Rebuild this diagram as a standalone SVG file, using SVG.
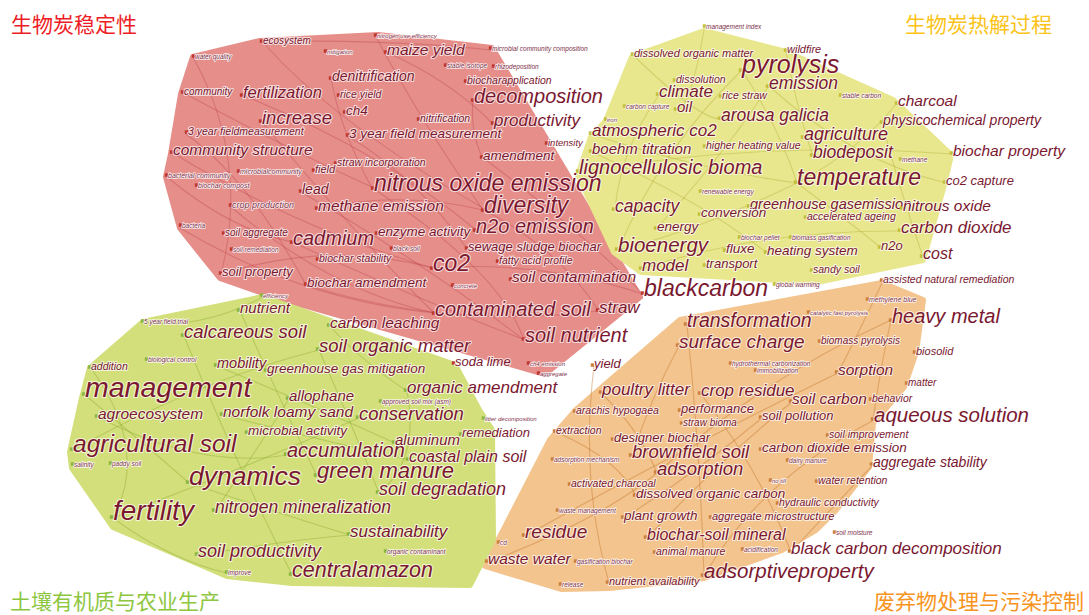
<svg xmlns="http://www.w3.org/2000/svg" width="1089" height="615" viewBox="0 0 1089 615">
<style>
.hull{stroke-linejoin:round;stroke-width:6}
.hr{fill:#e68e8a;stroke:#e68e8a}
.hy{fill:#e8e78d;stroke:#e8e78d}
.hg{fill:#d3df7b;stroke:#d3df7b}
.ho{fill:#f3c48d;stroke:#f3c48d}
.lk path{fill:none;stroke-width:1.1}
.lr path{stroke:#b8404a;stroke-opacity:.35}
.ly path{stroke:#b5ae3c;stroke-opacity:.4}
.lo path{stroke:#c57a35;stroke-opacity:.45}
.lg path{stroke:#93b035;stroke-opacity:.45}
.nd text{font-family:"Liberation Sans",Arial,sans-serif;font-style:italic;fill:#7a1830;stroke:#fff;stroke-opacity:.7;stroke-width:2.2;paint-order:stroke;stroke-linejoin:round}
.nd text.s{fill:#80304a;stroke-width:1.6;stroke-opacity:.85}
.cr rect{fill:#c0392b}
.cy rect{fill:#c4bf35}
.cg rect{fill:#8fb53a}
.co rect{fill:#cc8038}
.ttl{font-family:"Noto Sans CJK SC",sans-serif;font-size:21px}
</style>
<rect width="1089" height="615" fill="#fff"/>
<g id="hulls">
<polygon class="hull hr" points="260,41 378,35 492,48 640,297 545,374 272,296 220,278 180,228 166,177 171,154 181,94 193,57"/>
<polygon class="hull hy" points="704,31 786,52 893,100 951,155 944,185 923,260 817,282 641,272 614,252 578,175 591,137 606,121 632,57"/>
<polygon class="hull ho" points="882,283 923,300 916,352 904,387 873,423 869,467 836,510 816,530 782,550 704,578 609,588 561,589 485,566 550,440 576,410 680,320"/>
<polygon class="hull hg" points="263,297 455,365 479,410 492,430 493,540 470,585 292,583 227,576 113,527 72,468 70,452 82,398 90,368 143,322"/>
</g>
<g id="connectors" class="lk">
<g class="lr">
<path d="M262,41 Q330,120 483,208"/><path d="M182,92 Q290,150 372,187"/><path d="M171,152 Q300,230 433,268"/>
<path d="M166,176 Q230,230 293,242"/><path d="M242,95 Q380,150 476,230"/><path d="M261,121 Q360,240 434,313"/>
<path d="M386,52 Q450,80 493,124"/><path d="M331,78 Q340,130 372,188"/><path d="M473,100 Q470,130 482,157"/>
<path d="M482,157 Q580,230 643,294"/><path d="M221,274 Q330,240 433,268"/><path d="M306,285 Q450,330 598,311"/>
<path d="M301,192 Q420,260 524,340"/><path d="M317,209 Q400,190 483,210"/><path d="M348,136 Q420,180 467,249"/>
<path d="M231,207 Q330,290 434,313"/><path d="M193,57 Q250,160 221,274"/><path d="M262,41 Q400,40 491,50"/>
<path d="M376,37 Q420,120 483,210"/><path d="M180,228 Q300,300 434,313"/><path d="M433,268 Q540,260 643,294"/>
<path d="M292,242 Q420,300 525,340"/><path d="M484,210 Q560,250 599,311"/><path d="M372,188 Q500,270 524,340"/>
<path d="M186,134 Q250,180 306,285"/>
</g>
<g class="ly">
<path d="M742,70 Q780,130 797,183"/><path d="M742,70 Q660,150 618,250"/><path d="M896,104 Q860,150 797,183"/>
<path d="M659,95 Q620,150 615,210"/><path d="M579,172 Q760,140 953,154"/><path d="M633,55 Q700,120 721,119"/>
<path d="M786,52 Q800,120 813,156"/><path d="M591,134 Q700,170 797,183"/><path d="M618,250 Q700,230 797,183"/>
<path d="M641,269 Q760,230 901,231"/><path d="M704,30 Q690,110 677,110"/><path d="M882,123 Q900,190 923,257"/>
<path d="M797,183 Q860,230 881,248"/><path d="M769,86 Q850,160 946,183"/><path d="M592,152 Q700,200 767,253"/>
<path d="M656,229 Q720,160 769,86"/>
</g>
<g class="lo">
<path d="M891,320 Q760,380 657,473"/><path d="M891,320 Q880,370 873,420"/><path d="M838,373 Q680,450 525,536"/>
<path d="M687,325 Q700,450 704,576"/><path d="M679,346 Q650,400 632,456"/><path d="M594,366 Q580,480 609,583"/>
<path d="M792,402 Q720,460 647,538"/><path d="M874,420 Q760,480 704,576"/><path d="M882,283 Q860,330 838,373"/>
<path d="M601,393 Q640,430 657,473"/><path d="M701,394 Q760,470 791,552"/><path d="M556,432 Q620,460 636,496"/>
<path d="M488,562 Q600,520 657,473"/><path d="M873,465 Q830,510 791,552"/><path d="M762,418 Q700,470 624,518"/>
</g>
<g class="lg">
<path d="M85,395 Q140,440 189,483"/><path d="M73,450 Q200,380 319,350"/><path d="M113,518 Q240,470 359,418"/>
<path d="M184,336 Q230,450 292,575"/><path d="M240,311 Q280,400 317,476"/><path d="M91,368 Q150,450 113,518"/>
<path d="M143,322 Q200,330 263,297"/><path d="M98,417 Q200,470 287,455"/><path d="M189,483 Q300,520 350,535"/>
<path d="M223,415 Q320,440 409,460"/><path d="M319,350 Q350,420 379,493"/><path d="M217,366 Q300,400 395,443"/>
<path d="M407,391 Q420,460 379,493"/><path d="M227,573 Q170,560 113,518"/><path d="M198,555 Q290,540 350,535"/>
<path d="M330,326 Q360,360 407,391"/><path d="M289,399 Q250,460 215,511"/>
</g>
</g>
<g id="nodes" class="nd">
<g id="cluster-red" class="cr">
<g id="n-ecosystem"><rect x="259.8" y="39.3" width="3.5" height="3.5"/><text x="263" y="44" font-size="10">ecosystem</text></g>
<g id="n-nitrogen-use-efficiency"><rect x="373.8" y="33.3" width="3.5" height="3.5"/><text class="s" x="377" y="38" font-size="6">nitrogen use efficiency</text></g>
<g id="n-mitigation"><rect x="323.8" y="49.3" width="3.5" height="3.5"/><text class="s" x="327" y="54" font-size="6">mitigation</text></g>
<g id="n-maize-yield"><rect x="383.8" y="50.3" width="3.5" height="3.5"/><text x="387" y="55" font-size="15.5">maize yield</text></g>
<g id="n-microbial-community-composition"><rect x="488.8" y="46.3" width="3.5" height="3.5"/><text class="s" x="492" y="51" font-size="6.5">microbial community composition</text></g>
<g id="n-water-quality"><rect x="191.8" y="54.3" width="3.5" height="3.5"/><text class="s" x="195" y="59" font-size="6.5">water quality</text></g>
<g id="n-stable-isotope"><rect x="443.8" y="63.3" width="3.5" height="3.5"/><text class="s" x="447" y="68" font-size="6.5">stable isotope</text></g>
<g id="n-rhizodeposition"><rect x="491.8" y="64.3" width="3.5" height="3.5"/><text class="s" x="495" y="69" font-size="6.5">rhizodeposition</text></g>
<g id="n-denitrification"><rect x="328.8" y="76.3" width="3.5" height="3.5"/><text x="332" y="81" font-size="14">denitrification</text></g>
<g id="n-biocharapplication"><rect x="463.8" y="79.3" width="3.5" height="3.5"/><text x="467" y="84" font-size="10.5">biocharapplication</text></g>
<g id="n-community"><rect x="180.8" y="90.3" width="3.5" height="3.5"/><text x="184" y="95" font-size="10">community</text></g>
<g id="n-fertilization"><rect x="239.8" y="93.3" width="3.5" height="3.5"/><text x="243" y="98" font-size="16.5">fertilization</text></g>
<g id="n-rice-yield"><rect x="336.8" y="93.3" width="3.5" height="3.5"/><text x="340" y="98" font-size="10.5">rice yield</text></g>
<g id="n-decomposition"><rect x="470.8" y="98.3" width="3.5" height="3.5"/><text x="474" y="103" font-size="20">decomposition</text></g>
<g id="n-ch4"><rect x="342.8" y="110.3" width="3.5" height="3.5"/><text x="346" y="115" font-size="13.5">ch4</text></g>
<g id="n-increase"><rect x="258.8" y="119.3" width="3.5" height="3.5"/><text x="262" y="124" font-size="18.5">increase</text></g>
<g id="n-nitrification"><rect x="416.8" y="117.3" width="3.5" height="3.5"/><text x="420" y="122" font-size="10.5">nitrification</text></g>
<g id="n-productivity"><rect x="490.8" y="121.3" width="3.5" height="3.5"/><text x="494" y="126" font-size="17">productivity</text></g>
<g id="n-3-year-fieldmeasurement"><rect x="184.8" y="130.3" width="3.5" height="3.5"/><text x="188" y="135" font-size="10.5">3 year fieldmeasurement</text></g>
<g id="n-3-year-field-measurement"><rect x="345.8" y="133.3" width="3.5" height="3.5"/><text x="349" y="138" font-size="13.5">3 year field measurement</text></g>
<g id="n-intensity"><rect x="544.8" y="141.3" width="3.5" height="3.5"/><text x="548" y="146" font-size="9.5">intensity</text></g>
<g id="n-community-structure"><rect x="169.8" y="150.3" width="3.5" height="3.5"/><text x="173" y="155" font-size="15.5">community structure</text></g>
<g id="n-amendment"><rect x="479.8" y="155.3" width="3.5" height="3.5"/><text x="483" y="160" font-size="13.5">amendment</text></g>
<g id="n-straw-incorporation"><rect x="333.8" y="161.3" width="3.5" height="3.5"/><text x="337" y="166" font-size="10.5">straw incorporation</text></g>
<g id="n-field"><rect x="311.8" y="168.3" width="3.5" height="3.5"/><text x="315" y="173" font-size="11">field</text></g>
<g id="n-microbialcommunity"><rect x="236.8" y="169.3" width="3.5" height="3.5"/><text class="s" x="240" y="174" font-size="7">microbialcommunity</text></g>
<g id="n-bacterial-community"><rect x="164.8" y="173.3" width="3.5" height="3.5"/><text class="s" x="168" y="178" font-size="7">bacterial community</text></g>
<g id="n-biochar-compost"><rect x="194.8" y="183.3" width="3.5" height="3.5"/><text class="s" x="198" y="188" font-size="7">biochar compost</text></g>
<g id="n-nitrous-oxide-emission"><rect x="370.8" y="186.3" width="3.5" height="3.5"/><text x="374" y="191" font-size="23">nitrous oxide emission</text></g>
<g id="n-lead"><rect x="298.8" y="189.3" width="3.5" height="3.5"/><text x="302" y="194" font-size="14">lead</text></g>
<g id="n-diversity"><rect x="480.8" y="208.3" width="3.5" height="3.5"/><text x="484" y="213" font-size="23">diversity</text></g>
<g id="n-methane-emission"><rect x="314.8" y="206.3" width="3.5" height="3.5"/><text x="318" y="211" font-size="15.5">methane emission</text></g>
<g id="n-crop-production"><rect x="228.8" y="203.3" width="3.5" height="3.5"/><text class="s" x="232" y="208" font-size="9">crop production</text></g>
<g id="n-bacteria"><rect x="178.8" y="223.3" width="3.5" height="3.5"/><text class="s" x="182" y="228" font-size="6.5">bacteria</text></g>
<g id="n-soil-aggregate"><rect x="221.8" y="231.3" width="3.5" height="3.5"/><text x="225" y="236" font-size="10">soil aggregate</text></g>
<g id="n-enzyme-activity"><rect x="374.8" y="231.3" width="3.5" height="3.5"/><text x="378" y="236" font-size="13.5">enzyme activity</text></g>
<g id="n-n2o-emission"><rect x="472.8" y="228.3" width="3.5" height="3.5"/><text x="476" y="233" font-size="20">n2o emission</text></g>
<g id="n-cadmium"><rect x="289.8" y="240.3" width="3.5" height="3.5"/><text x="293" y="245" font-size="20">cadmium</text></g>
<g id="n-black-soil"><rect x="389.8" y="246.3" width="3.5" height="3.5"/><text class="s" x="393" y="251" font-size="6.5">black soil</text></g>
<g id="n-soil-remediation"><rect x="229.8" y="247.3" width="3.5" height="3.5"/><text class="s" x="233" y="252" font-size="6.5">soil remediation</text></g>
<g id="n-sewage-sludge-biochar"><rect x="464.8" y="246.3" width="3.5" height="3.5"/><text x="468" y="251" font-size="13">sewage sludge biochar</text></g>
<g id="n-biochar-stability"><rect x="315.8" y="257.3" width="3.5" height="3.5"/><text x="319" y="262" font-size="10.5">biochar stability</text></g>
<g id="n-co2"><rect x="429.8" y="266.3" width="3.5" height="3.5"/><text x="433" y="271" font-size="23">co2</text></g>
<g id="n-fatty-acid-profile"><rect x="495.8" y="259.3" width="3.5" height="3.5"/><text x="499" y="264" font-size="10.5">fatty acid profile</text></g>
<g id="n-soil-contamination"><rect x="508.8" y="277.3" width="3.5" height="3.5"/><text x="512" y="282" font-size="15.5">soil contamination</text></g>
<g id="n-soil-property"><rect x="218.8" y="271.3" width="3.5" height="3.5"/><text x="222" y="276" font-size="13">soil property</text></g>
<g id="n-biochar-amendment"><rect x="303.8" y="282.3" width="3.5" height="3.5"/><text x="307" y="287" font-size="13.5">biochar amendment</text></g>
<g id="n-concrete"><rect x="450.8" y="283.3" width="3.5" height="3.5"/><text class="s" x="454" y="288" font-size="6">concrete</text></g>
<g id="n-blackcarbon"><rect x="640.8" y="291.3" width="3.5" height="3.5"/><text x="644" y="296" font-size="23">blackcarbon</text></g>
<g id="n-contaminated-soil"><rect x="431.8" y="311.3" width="3.5" height="3.5"/><text x="435" y="316" font-size="20">contaminated soil</text></g>
<g id="n-straw"><rect x="595.8" y="308.3" width="3.5" height="3.5"/><text x="599" y="313" font-size="17">straw</text></g>
<g id="n-soil-nutrient"><rect x="521.8" y="337.3" width="3.5" height="3.5"/><text x="525" y="342" font-size="20">soil nutrient</text></g>
<g id="n-soda-lime"><rect x="451.8" y="361.3" width="3.5" height="3.5"/><text x="455" y="366" font-size="13">soda lime</text></g>
<g id="n-ch4-emission"><rect x="526.8" y="361.3" width="3.5" height="3.5"/><text class="s" x="530" y="366" font-size="6">ch4 emission</text></g>
<g id="n-aggregate"><rect x="536.8" y="371.3" width="3.5" height="3.5"/><text class="s" x="540" y="376" font-size="6">aggregate</text></g>
</g>
<g id="cluster-yellow" class="cy">
<g id="n-management-index"><rect x="702.8" y="24.3" width="3.5" height="3.5"/><text class="s" x="706" y="29" font-size="6.5">management index</text></g>
<g id="n-dissolved-organic-matter"><rect x="630.8" y="52.3" width="3.5" height="3.5"/><text x="634" y="57" font-size="11">dissolved organic matter</text></g>
<g id="n-wildfire"><rect x="783.8" y="48.3" width="3.5" height="3.5"/><text x="787" y="53" font-size="11">wildfire</text></g>
<g id="n-pyrolysis"><rect x="738.8" y="68.3" width="3.5" height="3.5"/><text x="742" y="73" font-size="25">pyrolysis</text></g>
<g id="n-emission"><rect x="765.8" y="84.3" width="3.5" height="3.5"/><text x="769" y="89" font-size="17.5">emission</text></g>
<g id="n-dissolution"><rect x="672.8" y="78.3" width="3.5" height="3.5"/><text x="676" y="83" font-size="10.5">dissolution</text></g>
<g id="n-climate"><rect x="655.8" y="92.3" width="3.5" height="3.5"/><text x="659" y="97" font-size="17">climate</text></g>
<g id="n-rice-straw"><rect x="718.8" y="94.3" width="3.5" height="3.5"/><text x="722" y="99" font-size="10.5">rice straw</text></g>
<g id="n-stable-carbon"><rect x="838.8" y="93.3" width="3.5" height="3.5"/><text class="s" x="842" y="98" font-size="6.5">stable carbon</text></g>
<g id="n-charcoal"><rect x="894.8" y="101.3" width="3.5" height="3.5"/><text x="898" y="106" font-size="15.5">charcoal</text></g>
<g id="n-carbon-capture"><rect x="622.8" y="104.3" width="3.5" height="3.5"/><text class="s" x="626" y="109" font-size="6.5">carbon capture</text></g>
<g id="n-oil"><rect x="673.8" y="107.3" width="3.5" height="3.5"/><text x="677" y="112" font-size="15">oil</text></g>
<g id="n-arousa-galicia"><rect x="717.8" y="116.3" width="3.5" height="3.5"/><text x="721" y="121" font-size="17.5">arousa galicia</text></g>
<g id="n-iron"><rect x="603.8" y="117.3" width="3.5" height="3.5"/><text class="s" x="607" y="122" font-size="6">iron</text></g>
<g id="n-physicochemical-property"><rect x="879.8" y="120.3" width="3.5" height="3.5"/><text x="883" y="125" font-size="14">physicochemical property</text></g>
<g id="n-atmospheric-co2"><rect x="588.8" y="131.3" width="3.5" height="3.5"/><text x="592" y="136" font-size="17">atmospheric co2</text></g>
<g id="n-agriculture"><rect x="800.8" y="135.3" width="3.5" height="3.5"/><text x="804" y="140" font-size="18">agriculture</text></g>
<g id="n-boehm-titration"><rect x="588.8" y="149.3" width="3.5" height="3.5"/><text x="592" y="154" font-size="15">boehm titration</text></g>
<g id="n-higher-heating-value"><rect x="702.8" y="144.3" width="3.5" height="3.5"/><text x="706" y="149" font-size="10.5">higher heating value</text></g>
<g id="n-biodeposit"><rect x="809.8" y="153.3" width="3.5" height="3.5"/><text x="813" y="158" font-size="17.5">biodeposit</text></g>
<g id="n-biochar-property"><rect x="949.8" y="151.3" width="3.5" height="3.5"/><text x="953" y="156" font-size="15.5">biochar property</text></g>
<g id="n-methane"><rect x="898.8" y="157.3" width="3.5" height="3.5"/><text class="s" x="902" y="162" font-size="6.5">methane</text></g>
<g id="n-lignocellulosic-bioma"><rect x="575.8" y="169.3" width="3.5" height="3.5"/><text x="579" y="174" font-size="20">lignocellulosic bioma</text></g>
<g id="n-temperature"><rect x="793.8" y="180.3" width="3.5" height="3.5"/><text x="797" y="185" font-size="23">temperature</text></g>
<g id="n-co2-capture"><rect x="942.8" y="180.3" width="3.5" height="3.5"/><text x="946" y="185" font-size="13">co2 capture</text></g>
<g id="n-renewable-energy"><rect x="698.8" y="189.3" width="3.5" height="3.5"/><text class="s" x="702" y="194" font-size="6.5">renewable energy</text></g>
<g id="n-capacity"><rect x="611.8" y="207.3" width="3.5" height="3.5"/><text x="615" y="212" font-size="17.5">capacity</text></g>
<g id="n-greenhouse-gasemission"><rect x="746.8" y="204.3" width="3.5" height="3.5"/><text x="750" y="209" font-size="14.5">greenhouse gasemission</text></g>
<g id="n-nitrous-oxide"><rect x="899.8" y="206.3" width="3.5" height="3.5"/><text x="903" y="211" font-size="15.5">nitrous oxide</text></g>
<g id="n-conversion"><rect x="697.8" y="212.3" width="3.5" height="3.5"/><text x="701" y="217" font-size="13.5">conversion</text></g>
<g id="n-accelerated-ageing"><rect x="803.8" y="215.3" width="3.5" height="3.5"/><text x="807" y="220" font-size="10.5">accelerated ageing</text></g>
<g id="n-carbon-dioxide"><rect x="897.8" y="228.3" width="3.5" height="3.5"/><text x="901" y="233" font-size="17">carbon dioxide</text></g>
<g id="n-energy"><rect x="653.8" y="226.3" width="3.5" height="3.5"/><text x="657" y="231" font-size="13.5">energy</text></g>
<g id="n-biochar-pellet"><rect x="737.8" y="235.3" width="3.5" height="3.5"/><text class="s" x="741" y="240" font-size="6.5">biochar pellet</text></g>
<g id="n-biomass-gasification"><rect x="788.8" y="235.3" width="3.5" height="3.5"/><text class="s" x="792" y="240" font-size="6.5">biomass gasification</text></g>
<g id="n-bioenergy"><rect x="614.8" y="247.3" width="3.5" height="3.5"/><text x="618" y="252" font-size="20.5">bioenergy</text></g>
<g id="n-fluxe"><rect x="722.8" y="248.3" width="3.5" height="3.5"/><text x="726" y="253" font-size="13.5">fluxe</text></g>
<g id="n-heating-system"><rect x="763.8" y="250.3" width="3.5" height="3.5"/><text x="767" y="255" font-size="13.5">heating system</text></g>
<g id="n-n2o"><rect x="877.8" y="245.3" width="3.5" height="3.5"/><text x="881" y="250" font-size="13">n2o</text></g>
<g id="n-cost"><rect x="919.8" y="254.3" width="3.5" height="3.5"/><text x="923" y="259" font-size="16">cost</text></g>
<g id="n-model"><rect x="638.8" y="266.3" width="3.5" height="3.5"/><text x="642" y="271" font-size="17">model</text></g>
<g id="n-transport"><rect x="702.8" y="263.3" width="3.5" height="3.5"/><text x="706" y="268" font-size="13">transport</text></g>
<g id="n-sandy-soil"><rect x="809.8" y="268.3" width="3.5" height="3.5"/><text x="813" y="273" font-size="10.5">sandy soil</text></g>
<g id="n-global-warming"><rect x="772.8" y="282.3" width="3.5" height="3.5"/><text class="s" x="776" y="287" font-size="6.5">global warming</text></g>
</g>
<g id="cluster-orange" class="co">
<g id="n-assisted-natural-remediation"><rect x="879.8" y="278.3" width="3.5" height="3.5"/><text x="883" y="283" font-size="10.5">assisted natural remediation</text></g>
<g id="n-methylene-blue"><rect x="865.8" y="297.3" width="3.5" height="3.5"/><text class="s" x="869" y="302" font-size="7">methylene blue</text></g>
<g id="n-catalytic-fast-pyrolysis"><rect x="806.8" y="310.3" width="3.5" height="3.5"/><text class="s" x="810" y="315" font-size="6">catalytic fast pyrolysis</text></g>
<g id="n-heavy-metal"><rect x="888.8" y="318.3" width="3.5" height="3.5"/><text x="892" y="323" font-size="20">heavy metal</text></g>
<g id="n-transformation"><rect x="683.8" y="322.3" width="3.5" height="3.5"/><text x="687" y="327" font-size="19.5">transformation</text></g>
<g id="n-surface-charge"><rect x="675.8" y="343.3" width="3.5" height="3.5"/><text x="679" y="348" font-size="19">surface charge</text></g>
<g id="n-biomass-pyrolysis"><rect x="817.8" y="339.3" width="3.5" height="3.5"/><text x="821" y="344" font-size="10">biomass pyrolysis</text></g>
<g id="n-biosolid"><rect x="912.8" y="350.3" width="3.5" height="3.5"/><text x="916" y="355" font-size="11">biosolid</text></g>
<g id="n-hydrothermal-carbonization"><rect x="728.8" y="361.3" width="3.5" height="3.5"/><text class="s" x="732" y="366" font-size="6.5">hydrothermal carbonization</text></g>
<g id="n-immobilization"><rect x="753.8" y="368.3" width="3.5" height="3.5"/><text class="s" x="757" y="373" font-size="6.5">immobilization</text></g>
<g id="n-yield"><rect x="590.8" y="363.3" width="3.5" height="3.5"/><text x="594" y="368" font-size="13">yield</text></g>
<g id="n-sorption"><rect x="834.8" y="370.3" width="3.5" height="3.5"/><text x="838" y="375" font-size="15.5">sorption</text></g>
<g id="n-matter"><rect x="904.8" y="381.3" width="3.5" height="3.5"/><text x="908" y="386" font-size="10">matter</text></g>
<g id="n-poultry-litter"><rect x="598.8" y="390.3" width="3.5" height="3.5"/><text x="602" y="395" font-size="17">poultry litter</text></g>
<g id="n-crop-residue"><rect x="697.8" y="391.3" width="3.5" height="3.5"/><text x="701" y="396" font-size="17">crop residue</text></g>
<g id="n-soil-carbon"><rect x="788.8" y="399.3" width="3.5" height="3.5"/><text x="792" y="404" font-size="15.5">soil carbon</text></g>
<g id="n-behavior"><rect x="868.8" y="397.3" width="3.5" height="3.5"/><text x="872" y="402" font-size="10.5">behavior</text></g>
<g id="n-aqueous-solution"><rect x="870.8" y="417.3" width="3.5" height="3.5"/><text x="874" y="422" font-size="20.5">aqueous solution</text></g>
<g id="n-arachis-hypogaea"><rect x="572.8" y="409.3" width="3.5" height="3.5"/><text x="576" y="414" font-size="10.5">arachis hypogaea</text></g>
<g id="n-performance"><rect x="677.8" y="408.3" width="3.5" height="3.5"/><text x="681" y="413" font-size="13">performance</text></g>
<g id="n-soil-pollution"><rect x="758.8" y="415.3" width="3.5" height="3.5"/><text x="762" y="420" font-size="13">soil pollution</text></g>
<g id="n-straw-bioma"><rect x="679.8" y="421.3" width="3.5" height="3.5"/><text x="683" y="426" font-size="10">straw bioma</text></g>
<g id="n-extraction"><rect x="552.8" y="429.3" width="3.5" height="3.5"/><text x="556" y="434" font-size="10.5">extraction</text></g>
<g id="n-soil-improvement"><rect x="825.8" y="433.3" width="3.5" height="3.5"/><text x="829" y="438" font-size="10.5">soil improvement</text></g>
<g id="n-designer-biochar"><rect x="610.8" y="437.3" width="3.5" height="3.5"/><text x="614" y="442" font-size="13">designer biochar</text></g>
<g id="n-brownfield-soil"><rect x="628.8" y="453.3" width="3.5" height="3.5"/><text x="632" y="458" font-size="18.5">brownfield soil</text></g>
<g id="n-carbon-dioxide-emission"><rect x="758.8" y="447.3" width="3.5" height="3.5"/><text x="762" y="452" font-size="13.5">carbon dioxide emission</text></g>
<g id="n-adsorption-mechanism"><rect x="550.8" y="457.3" width="3.5" height="3.5"/><text class="s" x="554" y="462" font-size="6.5">adsorption mechanism</text></g>
<g id="n-dairy-manure"><rect x="785.8" y="458.3" width="3.5" height="3.5"/><text class="s" x="789" y="463" font-size="6.5">dairy manure</text></g>
<g id="n-aggregate-stability"><rect x="869.8" y="462.3" width="3.5" height="3.5"/><text x="873" y="467" font-size="14">aggregate stability</text></g>
<g id="n-adsorption"><rect x="653.8" y="470.3" width="3.5" height="3.5"/><text x="657" y="475" font-size="18.5">adsorption</text></g>
<g id="n-activated-charcoal"><rect x="567.8" y="482.3" width="3.5" height="3.5"/><text x="571" y="487" font-size="10.5">activated charcoal</text></g>
<g id="n-no-till"><rect x="768.8" y="478.3" width="3.5" height="3.5"/><text class="s" x="772" y="483" font-size="6">no till</text></g>
<g id="n-water-retention"><rect x="814.8" y="479.3" width="3.5" height="3.5"/><text x="818" y="484" font-size="10.5">water retention</text></g>
<g id="n-dissolved-organic-carbon"><rect x="632.8" y="493.3" width="3.5" height="3.5"/><text x="636" y="498" font-size="13.5">dissolved organic carbon</text></g>
<g id="n-hydraulic-conductivity"><rect x="775.8" y="501.3" width="3.5" height="3.5"/><text x="779" y="506" font-size="10.5">hydraulic conductivity</text></g>
<g id="n-waste-management"><rect x="555.8" y="508.3" width="3.5" height="3.5"/><text class="s" x="559" y="513" font-size="6.5">waste management</text></g>
<g id="n-plant-growth"><rect x="620.8" y="515.3" width="3.5" height="3.5"/><text x="624" y="520" font-size="13.5">plant growth</text></g>
<g id="n-aggregate-microstructure"><rect x="708.8" y="515.3" width="3.5" height="3.5"/><text x="712" y="520" font-size="11">aggregate microstructure</text></g>
<g id="n-residue"><rect x="521.8" y="533.3" width="3.5" height="3.5"/><text x="525" y="538" font-size="19">residue</text></g>
<g id="n-biochar-soil-mineral"><rect x="643.8" y="535.3" width="3.5" height="3.5"/><text x="647" y="540" font-size="16">biochar-soil mineral</text></g>
<g id="n-soil-moisture"><rect x="832.8" y="530.3" width="3.5" height="3.5"/><text class="s" x="836" y="535" font-size="6.5">soil moisture</text></g>
<g id="n-cd"><rect x="496.8" y="540.3" width="3.5" height="3.5"/><text class="s" x="500" y="545" font-size="6.5">cd</text></g>
<g id="n-animal-manure"><rect x="652.8" y="550.3" width="3.5" height="3.5"/><text x="656" y="555" font-size="10.5">animal manure</text></g>
<g id="n-acidification"><rect x="740.8" y="547.3" width="3.5" height="3.5"/><text class="s" x="744" y="552" font-size="6.5">acidification</text></g>
<g id="n-black-carbon-decomposition"><rect x="787.8" y="549.3" width="3.5" height="3.5"/><text x="791" y="554" font-size="17">black carbon decomposition</text></g>
<g id="n-waste-water"><rect x="484.8" y="559.3" width="3.5" height="3.5"/><text x="488" y="564" font-size="15.5">waste water</text></g>
<g id="n-gasification-biochar"><rect x="573.8" y="559.3" width="3.5" height="3.5"/><text class="s" x="577" y="564" font-size="6.5">gasification biochar</text></g>
<g id="n-adsorptiveproperty"><rect x="700.8" y="573.3" width="3.5" height="3.5"/><text x="704" y="578" font-size="20.5">adsorptiveproperty</text></g>
<g id="n-nutrient-availability"><rect x="605.8" y="580.3" width="3.5" height="3.5"/><text x="609" y="585" font-size="11">nutrient availability</text></g>
<g id="n-release"><rect x="558.8" y="582.3" width="3.5" height="3.5"/><text class="s" x="562" y="587" font-size="6.5">release</text></g>
</g>
<g id="cluster-green" class="cg">
<g id="n-efficiency"><rect x="259.8" y="293.3" width="3.5" height="3.5"/><text class="s" x="263" y="298" font-size="6">efficiency</text></g>
<g id="n-nutrient"><rect x="236.8" y="308.3" width="3.5" height="3.5"/><text x="240" y="313" font-size="15">nutrient</text></g>
<g id="n-5-year-field-trial"><rect x="140.8" y="319.3" width="3.5" height="3.5"/><text class="s" x="144" y="324" font-size="6.5">5 year field trial</text></g>
<g id="n-calcareous-soil"><rect x="180.8" y="333.3" width="3.5" height="3.5"/><text x="184" y="338" font-size="18.5">calcareous soil</text></g>
<g id="n-carbon-leaching"><rect x="326.8" y="323.3" width="3.5" height="3.5"/><text x="330" y="328" font-size="15.5">carbon leaching</text></g>
<g id="n-soil-organic-matter"><rect x="315.8" y="347.3" width="3.5" height="3.5"/><text x="319" y="352" font-size="18.5">soil organic matter</text></g>
<g id="n-addition"><rect x="87.8" y="365.3" width="3.5" height="3.5"/><text x="91" y="370" font-size="10.5">addition</text></g>
<g id="n-biological-control"><rect x="144.8" y="357.3" width="3.5" height="3.5"/><text class="s" x="148" y="362" font-size="6.5">biological control</text></g>
<g id="n-mobility"><rect x="213.8" y="363.3" width="3.5" height="3.5"/><text x="217" y="368" font-size="14.5">mobility</text></g>
<g id="n-greenhouse-gas-mitigation"><rect x="263.8" y="368.3" width="3.5" height="3.5"/><text x="267" y="373" font-size="13.5">greenhouse gas mitigation</text></g>
<g id="n-management"><rect x="81.8" y="392.3" width="3.5" height="3.5"/><text x="85" y="397" font-size="28.5">management</text></g>
<g id="n-organic-amendment"><rect x="403.8" y="388.3" width="3.5" height="3.5"/><text x="407" y="393" font-size="17">organic amendment</text></g>
<g id="n-allophane"><rect x="285.8" y="396.3" width="3.5" height="3.5"/><text x="289" y="401" font-size="15">allophane</text></g>
<g id="n-approved-soil-mix"><rect x="378.8" y="399.3" width="3.5" height="3.5"/><text class="s" x="382" y="404" font-size="6.5">approved soil mix (asm)</text></g>
<g id="n-agroecosystem"><rect x="94.8" y="414.3" width="3.5" height="3.5"/><text x="98" y="419" font-size="15.5">agroecosystem</text></g>
<g id="n-norfolk-loamy-sand"><rect x="219.8" y="412.3" width="3.5" height="3.5"/><text x="223" y="417" font-size="15.5">norfolk loamy sand</text></g>
<g id="n-conservation"><rect x="355.8" y="415.3" width="3.5" height="3.5"/><text x="359" y="420" font-size="18.5">conservation</text></g>
<g id="n-litter-decomposition"><rect x="481.8" y="416.3" width="3.5" height="3.5"/><text class="s" x="485" y="421" font-size="6">litter decomposition</text></g>
<g id="n-remediation"><rect x="458.8" y="432.3" width="3.5" height="3.5"/><text x="462" y="437" font-size="13">remediation</text></g>
<g id="n-microbial-activity"><rect x="244.8" y="430.3" width="3.5" height="3.5"/><text x="248" y="435" font-size="13.5">microbial activity</text></g>
<g id="n-aluminum"><rect x="391.8" y="440.3" width="3.5" height="3.5"/><text x="395" y="445" font-size="15">aluminum</text></g>
<g id="n-agricultural-soil"><rect x="69.8" y="447.3" width="3.5" height="3.5"/><text x="73" y="452" font-size="24.5">agricultural soil</text></g>
<g id="n-accumulation"><rect x="283.8" y="452.3" width="3.5" height="3.5"/><text x="287" y="457" font-size="20">accumulation</text></g>
<g id="n-coastal-plain-soil"><rect x="405.8" y="457.3" width="3.5" height="3.5"/><text x="409" y="462" font-size="16">coastal plain soil</text></g>
<g id="n-salinity"><rect x="70.8" y="462.3" width="3.5" height="3.5"/><text class="s" x="74" y="467" font-size="6.5">salinity</text></g>
<g id="n-paddy-soil"><rect x="108.8" y="461.3" width="3.5" height="3.5"/><text class="s" x="112" y="466" font-size="6.5">paddy soil</text></g>
<g id="n-green-manure"><rect x="313.8" y="473.3" width="3.5" height="3.5"/><text x="317" y="478" font-size="22">green manure</text></g>
<g id="n-dynamics"><rect x="185.8" y="480.3" width="3.5" height="3.5"/><text x="189" y="485" font-size="26.5">dynamics</text></g>
<g id="n-soil-degradation"><rect x="375.8" y="490.3" width="3.5" height="3.5"/><text x="379" y="495" font-size="18">soil degradation</text></g>
<g id="n-nitrogen-mineralization"><rect x="211.8" y="508.3" width="3.5" height="3.5"/><text x="215" y="513" font-size="17.5">nitrogen mineralization</text></g>
<g id="n-fertility"><rect x="109.8" y="515.3" width="3.5" height="3.5"/><text x="113" y="520" font-size="28">fertility</text></g>
<g id="n-sustainability"><rect x="346.8" y="532.3" width="3.5" height="3.5"/><text x="350" y="537" font-size="17">sustainability</text></g>
<g id="n-organic-contaminant"><rect x="383.8" y="549.3" width="3.5" height="3.5"/><text class="s" x="387" y="554" font-size="6.5">organic contaminant</text></g>
<g id="n-soil-productivity"><rect x="194.8" y="552.3" width="3.5" height="3.5"/><text x="198" y="557" font-size="18">soil productivity</text></g>
<g id="n-improve"><rect x="224.8" y="570.3" width="3.5" height="3.5"/><text class="s" x="228" y="575" font-size="6.5">improve</text></g>
<g id="n-centralamazon"><rect x="288.8" y="572.3" width="3.5" height="3.5"/><text x="292" y="577" font-size="21.5">centralamazon</text></g>
</g>
</g>
<g id="titles">
<text class="ttl" x="11" y="31.5" fill="#ee1c25">生物炭稳定性</text>
<text class="ttl" x="905" y="31.5" fill="#fcc318">生物炭热解过程</text>
<text class="ttl" x="10" y="609" fill="#8dc63f">土壤有机质与农业生产</text>
<text class="ttl" x="874" y="609" fill="#f7941d">废弃物处理与污染控制</text>
</g>
</svg>
